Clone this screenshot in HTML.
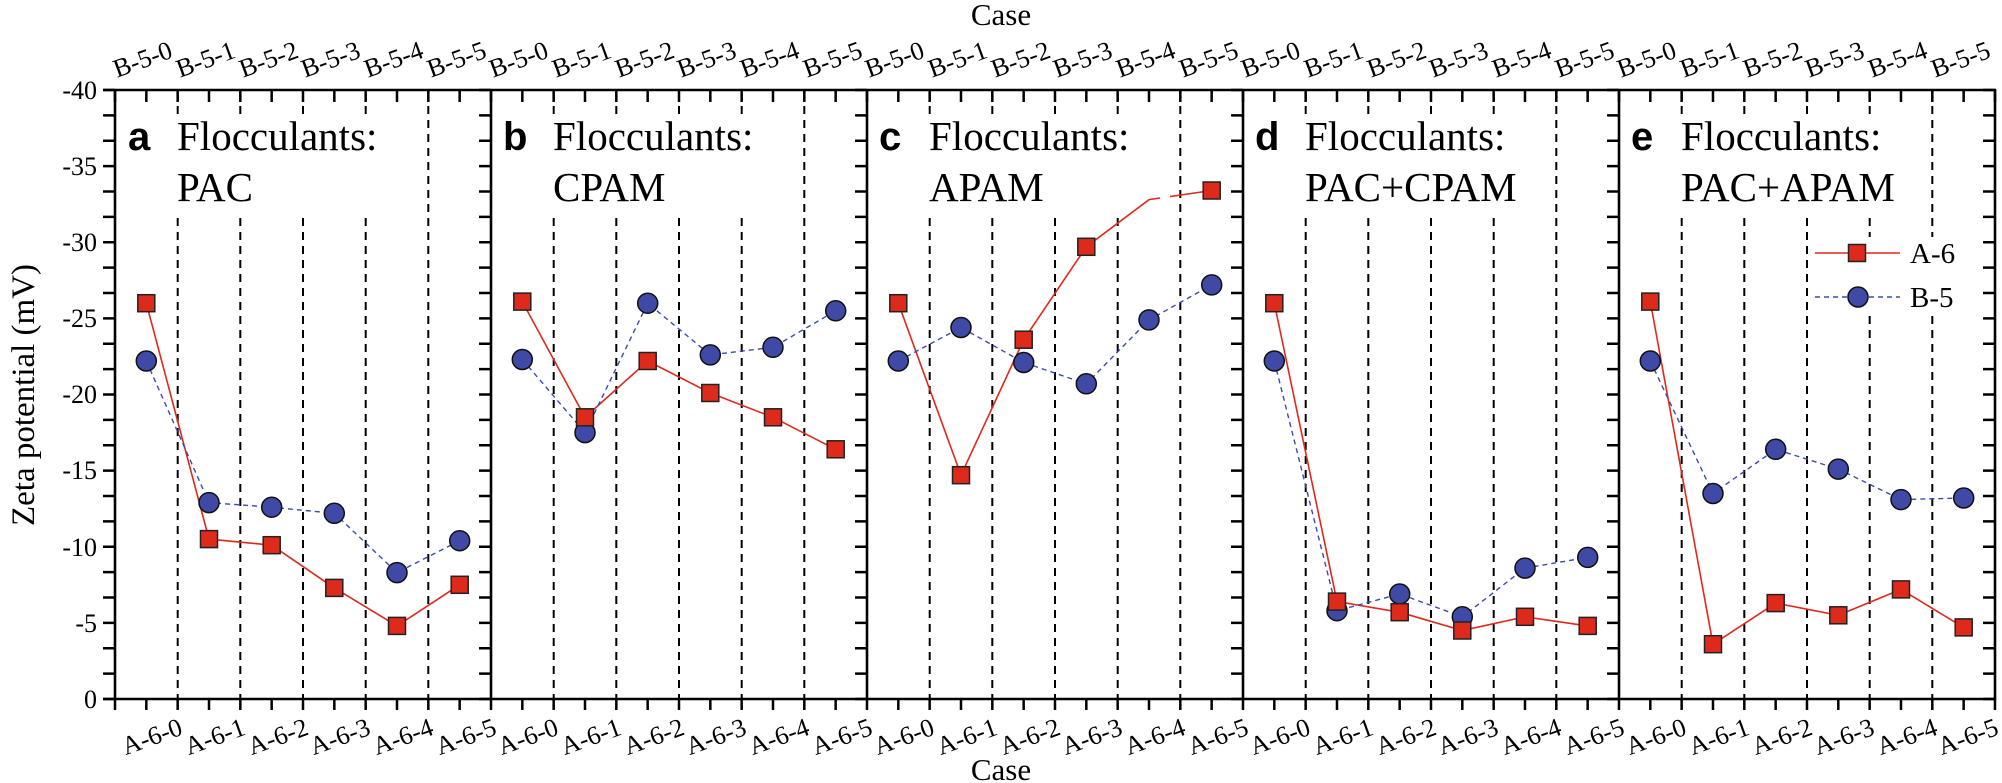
<!DOCTYPE html>
<html><head><meta charset="utf-8"><style>
html,body{margin:0;padding:0;background:#fff}
svg{display:block}
text{font-family:"Liberation Serif","Times New Roman",serif;fill:#000}
.lab{font-family:"Liberation Sans",Arial,sans-serif;font-size:40px;font-weight:bold}
.ft{font-family:"Liberation Serif","Times New Roman",serif;font-size:41px}
.yt{font-family:"Liberation Serif",serif;font-size:26px;text-anchor:end}
.xt{font-family:"Liberation Serif",serif;font-size:26px;text-anchor:end}
.dl{stroke:#000;stroke-width:2;stroke-dasharray:8 6}
.ra{fill:none;stroke:#e0281c;stroke-width:1.6}
.bl{fill:none;stroke:#3b4bb0;stroke-width:1.4;stroke-dasharray:5 4}
.sq{fill:#dd2a1b;stroke:#222;stroke-width:1.5}
.ci{fill:#3f4aa6;stroke:#111;stroke-width:1.5}
</style></head><body>
<svg width="2002" height="783" viewBox="0 0 2002 783" xmlns="http://www.w3.org/2000/svg" font-family="Liberation Serif, serif">
<rect width="2002" height="783" fill="#fff"/>
<g class="dl">
<line x1="177.7" y1="92" x2="177.7" y2="698"/><line x1="240.3" y1="92" x2="240.3" y2="698"/><line x1="303" y1="92" x2="303" y2="698"/><line x1="365.7" y1="92" x2="365.7" y2="698"/><line x1="428.3" y1="92" x2="428.3" y2="698"/>
<line x1="553.7" y1="92" x2="553.7" y2="698"/><line x1="616.3" y1="92" x2="616.3" y2="698"/><line x1="679" y1="92" x2="679" y2="698"/><line x1="741.7" y1="92" x2="741.7" y2="698"/><line x1="804.3" y1="92" x2="804.3" y2="698"/>
<line x1="929.7" y1="92" x2="929.7" y2="698"/><line x1="992.3" y1="92" x2="992.3" y2="698"/><line x1="1055" y1="92" x2="1055" y2="698"/><line x1="1117.7" y1="92" x2="1117.7" y2="698"/><line x1="1180.3" y1="92" x2="1180.3" y2="698"/>
<line x1="1305.7" y1="92" x2="1305.7" y2="698"/><line x1="1368.3" y1="92" x2="1368.3" y2="698"/><line x1="1431" y1="92" x2="1431" y2="698"/><line x1="1493.7" y1="92" x2="1493.7" y2="698"/><line x1="1556.3" y1="92" x2="1556.3" y2="698"/>
<line x1="1681.7" y1="92" x2="1681.7" y2="698"/><line x1="1744.3" y1="92" x2="1744.3" y2="698"/><line x1="1807" y1="92" x2="1807" y2="698"/><line x1="1869.7" y1="92" x2="1869.7" y2="698"/><line x1="1932.3" y1="92" x2="1932.3" y2="698"/>
</g>
<g fill="#fff">
<rect x="175" y="116" width="228" height="96"/>
<rect x="551" y="116" width="228" height="96"/>
<rect x="927" y="116" width="228" height="96"/>
<rect x="1303" y="116" width="248" height="96"/>
<rect x="1679" y="116" width="248" height="96"/>
<rect x="1809" y="237" width="183" height="78"/>
</g>
<g>
<text class="lab" x="128" y="150">a</text><text class="ft" x="177" y="150">Flocculants:</text><text class="ft" x="177" y="201">PAC</text>
<text class="lab" x="503" y="150">b</text><text class="ft" x="553" y="150">Flocculants:</text><text class="ft" x="553" y="201">CPAM</text>
<text class="lab" x="879" y="150">c</text><text class="ft" x="929" y="150">Flocculants:</text><text class="ft" x="929" y="201">APAM</text>
<text class="lab" x="1255" y="150">d</text><text class="ft" x="1305" y="150">Flocculants:</text><text class="ft" x="1305" y="201">PAC+CPAM</text>
<text class="lab" x="1631" y="150">e</text><text class="ft" x="1681" y="150">Flocculants:</text><text class="ft" x="1681" y="201">PAC+APAM</text>
</g>
<polyline class="ra" points="146.3,303.2 209,539.1 271.7,545.2 334.3,587.9 397,625.9 459.7,584.8"/>
<polyline class="bl" points="146.3,361 209,502.6 271.7,507.2 334.3,513.3 397,572.6 459.7,540.7"/>
<polyline class="ra" points="522.3,301.6 585,417.3 647.7,361 710.3,393 773,417.3 835.7,449.3"/>
<polyline class="bl" points="522.3,359.5 585,432.6 647.7,303.2 710.3,354.9 773,347.3 835.7,310.8"/>
<polyline class="ra" points="898.3,303.2 961,475.2 1023.7,339.7 1086.3,246.8 1149,199.6 1211.7,190.5"/>
<polyline class="bl" points="898.3,361 961,327.5 1023.7,362.5 1086.3,383.8 1149,319.9 1211.7,284.9"/>
<polyline class="ra" points="1274.3,303.2 1337,601.6 1399.7,612.2 1462.3,630.5 1525,616.8 1587.7,625.9"/>
<polyline class="bl" points="1274.3,361 1337,610.7 1399.7,594 1462.3,616.8 1525,568.1 1587.7,557.4"/>
<polyline class="ra" points="1650.3,301.6 1713,644.2 1775.7,603.1 1838.3,615.3 1901,589.4 1963.7,627.4"/>
<polyline class="bl" points="1650.3,361 1713,493.5 1775.7,449.3 1838.3,469.1 1901,499.6 1963.7,498"/>
<rect x="1160" y="185" width="10" height="25" fill="#fff"/>
<g class="ci">
<circle cx="146.3" cy="361" r="10"/><circle cx="209" cy="502.6" r="10"/><circle cx="271.7" cy="507.2" r="10"/><circle cx="334.3" cy="513.3" r="10"/><circle cx="397" cy="572.6" r="10"/><circle cx="459.7" cy="540.7" r="10"/>
<circle cx="522.3" cy="359.5" r="10"/><circle cx="585" cy="432.6" r="10"/><circle cx="647.7" cy="303.2" r="10"/><circle cx="710.3" cy="354.9" r="10"/><circle cx="773" cy="347.3" r="10"/><circle cx="835.7" cy="310.8" r="10"/>
<circle cx="898.3" cy="361" r="10"/><circle cx="961" cy="327.5" r="10"/><circle cx="1023.7" cy="362.5" r="10"/><circle cx="1086.3" cy="383.8" r="10"/><circle cx="1149" cy="319.9" r="10"/><circle cx="1211.7" cy="284.9" r="10"/>
<circle cx="1274.3" cy="361" r="10"/><circle cx="1337" cy="610.7" r="10"/><circle cx="1399.7" cy="594" r="10"/><circle cx="1462.3" cy="616.8" r="10"/><circle cx="1525" cy="568.1" r="10"/><circle cx="1587.7" cy="557.4" r="10"/>
<circle cx="1650.3" cy="361" r="10"/><circle cx="1713" cy="493.5" r="10"/><circle cx="1775.7" cy="449.3" r="10"/><circle cx="1838.3" cy="469.1" r="10"/><circle cx="1901" cy="499.6" r="10"/><circle cx="1963.7" cy="498" r="10"/>
</g>
<g class="sq">
<rect x="137.8" y="294.7" width="17" height="17"/><rect x="200.5" y="530.6" width="17" height="17"/><rect x="263.2" y="536.7" width="17" height="17"/><rect x="325.8" y="579.4" width="17" height="17"/><rect x="388.5" y="617.4" width="17" height="17"/><rect x="451.2" y="576.3" width="17" height="17"/>
<rect x="513.8" y="293.1" width="17" height="17"/><rect x="576.5" y="408.8" width="17" height="17"/><rect x="639.2" y="352.5" width="17" height="17"/><rect x="701.8" y="384.5" width="17" height="17"/><rect x="764.5" y="408.8" width="17" height="17"/><rect x="827.2" y="440.8" width="17" height="17"/>
<rect x="889.8" y="294.7" width="17" height="17"/><rect x="952.5" y="466.7" width="17" height="17"/><rect x="1015.2" y="331.2" width="17" height="17"/><rect x="1077.8" y="238.3" width="17" height="17"/><rect x="1203.2" y="182" width="17" height="17"/>
<rect x="1265.8" y="294.7" width="17" height="17"/><rect x="1328.5" y="593.1" width="17" height="17"/><rect x="1391.2" y="603.7" width="17" height="17"/><rect x="1453.8" y="622" width="17" height="17"/><rect x="1516.5" y="608.3" width="17" height="17"/><rect x="1579.2" y="617.4" width="17" height="17"/>
<rect x="1641.8" y="293.1" width="17" height="17"/><rect x="1704.5" y="635.7" width="17" height="17"/><rect x="1767.2" y="594.6" width="17" height="17"/><rect x="1829.8" y="606.8" width="17" height="17"/><rect x="1892.5" y="580.9" width="17" height="17"/><rect x="1955.2" y="618.9" width="17" height="17"/>
</g>
<line x1="1815" y1="253" x2="1900" y2="253" stroke="#e0281c" stroke-width="1.6"/>
<rect x="1848.5" y="244.5" width="17" height="17" class="sq"/>
<text x="1910" y="263" style="font-size:29px">A-6</text>
<line x1="1815" y1="297" x2="1900" y2="297" class="bl"/>
<circle cx="1858" cy="297" r="10" class="ci"/>
<text x="1910" y="307" style="font-size:29px">B-5</text>
<g stroke="#000" stroke-width="2.6" fill="none">
<line x1="103" y1="90" x2="1996" y2="90"/>
<line x1="103" y1="699" x2="1996" y2="699"/>
<line x1="115" y1="89" x2="115" y2="700"/>
<line x1="491" y1="89" x2="491" y2="700"/>
<line x1="867" y1="89" x2="867" y2="700"/>
<line x1="1243" y1="89" x2="1243" y2="700"/>
<line x1="1619" y1="89" x2="1619" y2="700"/>
<line x1="1995" y1="89" x2="1995" y2="700"/>
</g>
<g stroke="#000" fill="none">
<line x1="113.75" y1="96" x2="1997" y2="96" stroke-width="12" stroke-dasharray="2.5 28.833"/>
<line x1="113.75" y1="704.5" x2="1997" y2="704.5" stroke-width="11" stroke-dasharray="2.5 28.833"/>
<line x1="109" y1="88.75" x2="109" y2="701" stroke-width="12" stroke-dasharray="2.5 22.875"/>
<line x1="485" y1="88.75" x2="485" y2="701" stroke-width="12" stroke-dasharray="2.5 22.875"/>
<line x1="861" y1="88.75" x2="861" y2="701" stroke-width="12" stroke-dasharray="2.5 22.875"/>
<line x1="1237" y1="88.75" x2="1237" y2="701" stroke-width="12" stroke-dasharray="2.5 22.875"/>
<line x1="1613" y1="88.75" x2="1613" y2="701" stroke-width="12" stroke-dasharray="2.5 22.875"/>
<line x1="1989" y1="88.75" x2="1989" y2="701" stroke-width="12" stroke-dasharray="2.5 22.875"/>
</g>
<g class="yt">
<text x="97" y="99">-40</text><text x="97" y="175">-35</text><text x="97" y="251">-30</text><text x="97" y="327">-25</text><text x="97" y="403">-20</text><text x="97" y="479">-15</text><text x="97" y="556">-10</text><text x="97" y="632">-5</text><text x="97" y="708">0</text>
</g>
<g class="xt">
<text transform="translate(174,57) rotate(-20)">B-5-0</text><text transform="translate(237,57) rotate(-20)">B-5-1</text><text transform="translate(300,57) rotate(-20)">B-5-2</text><text transform="translate(362,57) rotate(-20)">B-5-3</text><text transform="translate(425,57) rotate(-20)">B-5-4</text><text transform="translate(488,57) rotate(-20)">B-5-5</text>
<text transform="translate(550,57) rotate(-20)">B-5-0</text><text transform="translate(613,57) rotate(-20)">B-5-1</text><text transform="translate(676,57) rotate(-20)">B-5-2</text><text transform="translate(738,57) rotate(-20)">B-5-3</text><text transform="translate(801,57) rotate(-20)">B-5-4</text><text transform="translate(864,57) rotate(-20)">B-5-5</text>
<text transform="translate(926,57) rotate(-20)">B-5-0</text><text transform="translate(989,57) rotate(-20)">B-5-1</text><text transform="translate(1052,57) rotate(-20)">B-5-2</text><text transform="translate(1114,57) rotate(-20)">B-5-3</text><text transform="translate(1177,57) rotate(-20)">B-5-4</text><text transform="translate(1240,57) rotate(-20)">B-5-5</text>
<text transform="translate(1302,57) rotate(-20)">B-5-0</text><text transform="translate(1365,57) rotate(-20)">B-5-1</text><text transform="translate(1428,57) rotate(-20)">B-5-2</text><text transform="translate(1490,57) rotate(-20)">B-5-3</text><text transform="translate(1553,57) rotate(-20)">B-5-4</text><text transform="translate(1616,57) rotate(-20)">B-5-5</text>
<text transform="translate(1678,57) rotate(-20)">B-5-0</text><text transform="translate(1741,57) rotate(-20)">B-5-1</text><text transform="translate(1804,57) rotate(-20)">B-5-2</text><text transform="translate(1866,57) rotate(-20)">B-5-3</text><text transform="translate(1929,57) rotate(-20)">B-5-4</text><text transform="translate(1992,57) rotate(-20)">B-5-5</text>
</g>
<g class="xt">
<text transform="translate(184,734) rotate(-20)">A-6-0</text><text transform="translate(247,734) rotate(-20)">A-6-1</text><text transform="translate(310,734) rotate(-20)">A-6-2</text><text transform="translate(372,734) rotate(-20)">A-6-3</text><text transform="translate(435,734) rotate(-20)">A-6-4</text><text transform="translate(498,734) rotate(-20)">A-6-5</text>
<text transform="translate(560,734) rotate(-20)">A-6-0</text><text transform="translate(623,734) rotate(-20)">A-6-1</text><text transform="translate(686,734) rotate(-20)">A-6-2</text><text transform="translate(748,734) rotate(-20)">A-6-3</text><text transform="translate(811,734) rotate(-20)">A-6-4</text><text transform="translate(874,734) rotate(-20)">A-6-5</text>
<text transform="translate(936,734) rotate(-20)">A-6-0</text><text transform="translate(999,734) rotate(-20)">A-6-1</text><text transform="translate(1062,734) rotate(-20)">A-6-2</text><text transform="translate(1124,734) rotate(-20)">A-6-3</text><text transform="translate(1187,734) rotate(-20)">A-6-4</text><text transform="translate(1250,734) rotate(-20)">A-6-5</text>
<text transform="translate(1312,734) rotate(-20)">A-6-0</text><text transform="translate(1375,734) rotate(-20)">A-6-1</text><text transform="translate(1438,734) rotate(-20)">A-6-2</text><text transform="translate(1500,734) rotate(-20)">A-6-3</text><text transform="translate(1563,734) rotate(-20)">A-6-4</text><text transform="translate(1626,734) rotate(-20)">A-6-5</text>
<text transform="translate(1688,734) rotate(-20)">A-6-0</text><text transform="translate(1751,734) rotate(-20)">A-6-1</text><text transform="translate(1814,734) rotate(-20)">A-6-2</text><text transform="translate(1876,734) rotate(-20)">A-6-3</text><text transform="translate(1939,734) rotate(-20)">A-6-4</text><text transform="translate(2000,734) rotate(-20)">A-6-5</text>
</g>
<text x="1001" y="25" style="font-family:'Liberation Serif',serif;font-size:31px" text-anchor="middle">Case</text>
<text x="1001" y="780" style="font-family:'Liberation Serif',serif;font-size:31px" text-anchor="middle">Case</text>
<text transform="translate(34,395) rotate(-90)" style="font-family:'Liberation Serif',serif;font-size:33px" text-anchor="middle">Zeta potential (mV)</text>
</svg>
</body></html>
